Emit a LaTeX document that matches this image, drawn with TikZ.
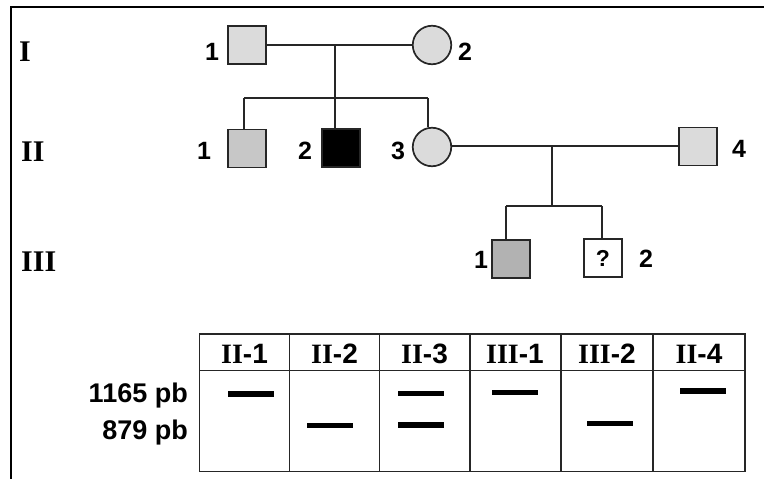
\documentclass[tikz,border=0pt]{standalone}
\usepackage{fontspec}
\setmainfont{Liberation Sans}
\newfontfamily\romfont{Liberation Serif}
\begin{document}
\begin{tikzpicture}[x=1pt,y=-1pt,
  ped/.style={draw=black!85,line width=1.7pt,inner sep=0pt,minimum size=38pt},
  male/.style={ped,rectangle},
  female/.style={ped,circle,minimum size=38.5pt},
  lightfill/.style={fill=black!14},
  midfill/.style={fill=black!22},
  darkfill/.style={fill=black!30},
  affected/.style={fill=black},
  num/.style={font=\fontsize{25}{25}\selectfont\bfseries,inner sep=0pt},
  gen/.style={font=\fontsize{30}{30}\selectfont\romfont\bfseries,anchor=base west,inner sep=0pt},
  link/.style={draw=black!85,line width=1.4pt},
  grid/.style={draw=black!85,line width=1.5pt},
  bandbox/.style={fill=black,inner sep=0pt,minimum width=46pt,minimum height=5.5pt},
  head/.style={font=\fontsize{28}{28}\selectfont\bfseries,anchor=base,inner sep=0pt},
  bp/.style={font=\fontsize{27}{27}\selectfont\bfseries,anchor=base east,inner sep=0pt}]
\useasboundingbox (0,0) rectangle (764,479);
% frame
\draw[line width=2.2pt] (11,479) -- (11,7) -- (764,7);

% generation labels
\node[gen] (gI) at (19,61) {I};
\node[gen] (gII) at (21,161) {II};
\node[gen] (gIII) at (21,271) {III};

% generation I
\node[male,lightfill] (I1) at (247,45) {};
\node[female,lightfill] (I2) at (432,45) {};
\node[num] (lI1) at (212,52) {1};
\node[num] (lI2) at (465,52) {2};

% generation II
\node[male,midfill] (II1) at (247,148.5) {};
\node[male,affected] (II2) at (341,148) {};
\node[female,lightfill] (II3) at (432,147) {};
\node[male,lightfill] (II4) at (698,146.5) {};
\node[num] (lII1) at (204,150.5) {1};
\node[num] (lII2) at (305,150.5) {2};
\node[num] (lII3) at (398,150.5) {3};
\node[num] (lII4) at (739,149) {4};

% generation III
\node[male,darkfill] (III1) at (511,259) {};
\node[male,font=\fontsize{23}{23}\selectfont\bfseries] (III2) at (603,258) {?};
\node[num] (lIII1) at (481,260) {1};
\node[num] (lIII2) at (646,259) {2};

% connectors generation I -> II
\coordinate (m1) at (335,45);
\coordinate (s1) at (335,98);
\coordinate (d1) at (244,98);
\coordinate (d3) at (428,98);
\draw[link] (I1.east |- m1) -- (I2.west |- m1);
\draw[link] (m1) -- (s1);
\draw[link] (d1) -- (d3);
\draw[link] (d1) -- (d1 |- II1.north);
\draw[link] (s1) -- (s1 |- II2.north);
\draw[link] (d3) -- (d3 |- II3.north);

% connectors generation II -> III
\coordinate (m2) at (552,146);
\coordinate (s2) at (552,206);
\coordinate (e1) at (506,206);
\coordinate (e2) at (602,206);
\draw[link] (II3.east |- m2) -- (II4.west |- m2);
\draw[link] (m2) -- (s2);
\draw[link] (e1) -- (e2);
\draw[link] (e1) -- (e1 |- III1.north);
\draw[link] (e2) -- (e2 |- III2.north);

% table
\draw[grid] (199.5,334) rectangle (745,471.5);
\draw[grid] (199.5,370.5) -- (745,370.5);
\foreach \x in {289.5,379.5,470,561,653} \draw[grid] (\x,334) -- (\x,471.5);

\node[head] (h1) at (244.5,363) {{\romfont II}-1};
\node[head] (h2) at (334.5,363) {{\romfont II}-2};
\node[head] (h3) at (424.5,363) {{\romfont II}-3};
\node[head] (h4) at (515,363) {{\romfont III}-1};
\node[head] (h5) at (607,363) {{\romfont III}-2};
\node[head] (h6) at (699,363) {{\romfont II}-4};

\node[bp] (bp1) at (188,402) {1165 pb};
\node[bp] (bp2) at (188,439) {879 pb};

% bands
\node[bandbox] (b1) at (251,394) {};
\node[bandbox] (b2) at (330,425.5) {};
\node[bandbox] (b3a) at (421,393.5) {};
\node[bandbox] (b3b) at (421,425) {};
\node[bandbox] (b4) at (514.5,392.5) {};
\node[bandbox] (b5) at (610,423.5) {};
\node[bandbox] (b6) at (702.5,391) {};
\end{tikzpicture}
\end{document}
